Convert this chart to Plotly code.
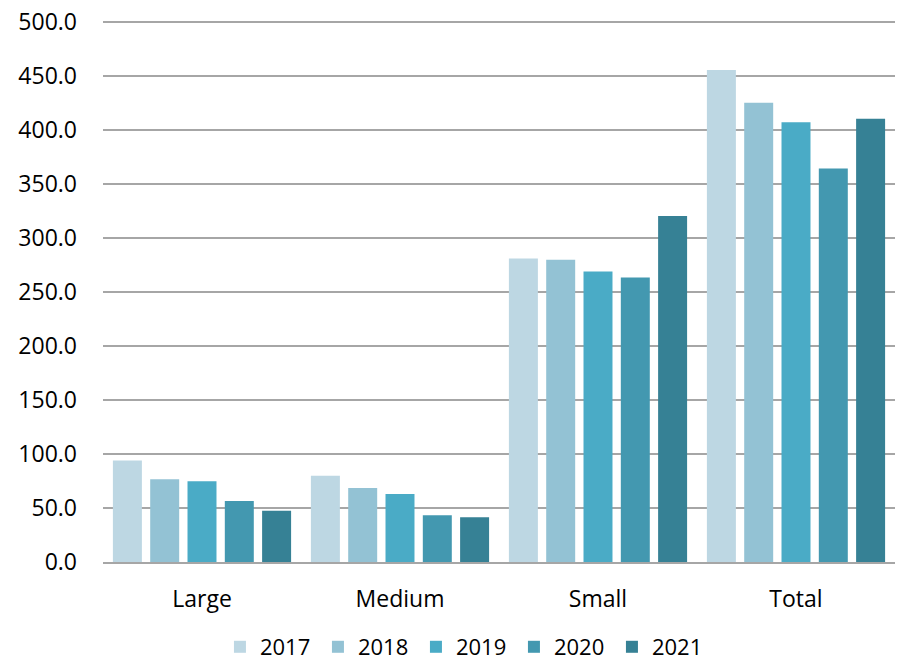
import plotly.graph_objects as go

categories = ["Large", "Medium", "Small", "Total"]
years = ["2017", "2018", "2019", "2020", "2021"]
v2017 = [93.8, 79.9, 280.9, 455.3]
v2018 = [76.5, 68.5, 279.7, 425.0]
v2019 = [74.7, 63.0, 268.9, 406.8]
v2020 = [56.5, 43.2, 263.3, 364.2]
v2021 = [47.5, 41.4, 320.1, 410.2]
series = [v2017, v2018, v2019, v2020, v2021]
colors = ["#BDD7E3", "#93C2D4", "#4AABC6", "#4398B0", "#368195"]
y_ticks = [0, 50, 100, 150, 200, 250, 300, 350, 400, 450, 500]

FONT = "Open Sans"
fig = go.Figure()
for yr, vals, c in zip(years, series, colors):
    fig.add_trace(go.Bar(name=yr, x=categories, y=vals, marker=dict(color=c, line=dict(width=0))))

fig.update_layout(
    width=897, height=662,
    margin=dict(l=103, r=2, t=20, b=100, autoexpand=False),
    paper_bgcolor="white", plot_bgcolor="white",
    barmode="group", bargap=0.058, bargroupgap=0.223,
    font=dict(family=FONT, size=23, color="#000000"),
    showlegend=True,
    legend=dict(orientation="h", x=0.457, xanchor="center", y=-0.1568, yanchor="middle",
                font=dict(family=FONT, size=22), entrywidth=53, entrywidthmode="pixels",
                itemclick=False),
)
fig.update_yaxes(range=[0, 501.5], tickvals=y_ticks, ticktext=[f"{v:.1f}" for v in y_ticks],
                 showgrid=True, gridcolor="#A6A6A6", gridwidth=1.5, automargin=False,
                 zeroline=False, showline=False, ticks="", ticklabelstandoff=25,
                 ticklabeloverflow="allow",
                 tickfont=dict(family=FONT, size=23))
fig.update_xaxes(showline=True, linecolor="#A6A6A6", linewidth=1.5, ticks="", automargin=False,
                 ticklabelstandoff=16, tickfont=dict(family=FONT, size=23))

fig.write_html("out.html", config={"displayModeBar": False},
               post_script="document.body.style.margin='0';")
